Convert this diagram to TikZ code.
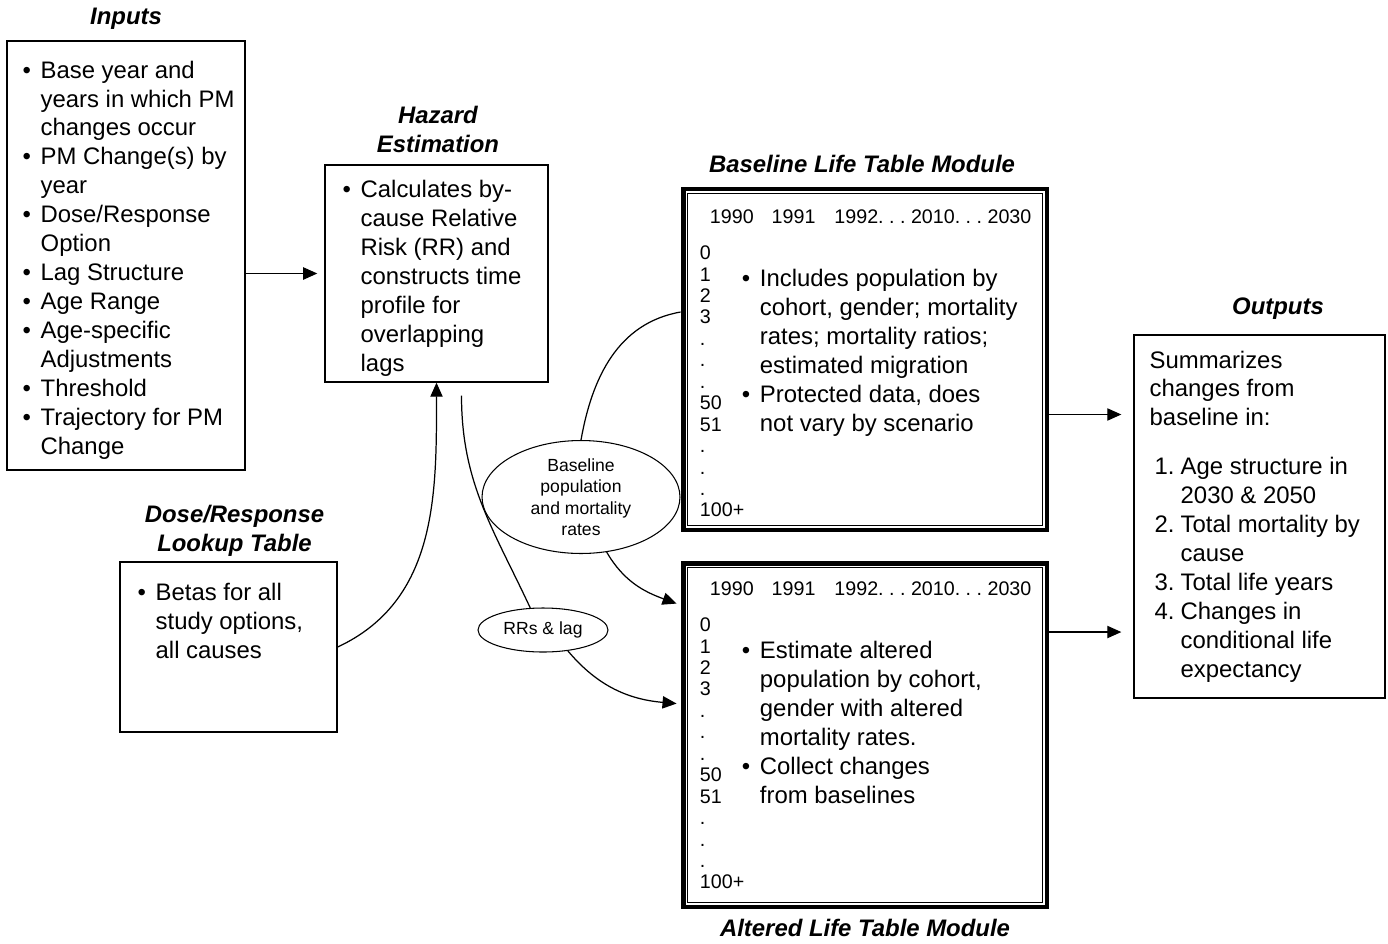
\documentclass[tikz,border=0pt]{standalone}
\usepackage{fontspec}
\setmainfont{Liberation Sans}
\usetikzlibrary{arrows.meta, positioning, shapes.geometric}

\newcommand{\bul}{\makebox[0.36cm][l]{\textbullet}}
\newcommand{\ind}{\hspace*{0.36cm}}
\newcommand{\num}[1]{\hspace*{0.1cm}\makebox[0.52cm][l]{#1}}
\newcommand{\nind}{\hspace*{0.62cm}}

\begin{document}
\begin{tikzpicture}[x=0.02cm, y=-0.02cm,
    box/.style={draw, line width=0.8pt, inner sep=0pt},
    lifebox/.style={draw, line width=2.8pt, inner sep=0pt, minimum width=7.28cm},
    txt/.style={inner sep=0pt, anchor=north west, align=left,
                font=\fontsize{13.6}{16.5}\selectfont},
    ttl/.style={inner sep=0pt, align=center,
                font=\fontsize{13.6}{16.5}\selectfont\bfseries\itshape},
    small/.style={inner sep=0pt, anchor=north west, align=left,
                  font=\fontsize{11.2}{12.2}\selectfont},
    oval/.style={draw, ellipse, line width=0.6pt, inner sep=0pt, align=center,
                 font=\fontsize{10}{12.2}\selectfont},
    arr/.style={-{Triangle[length=8pt,width=7pt]}, line width=0.7pt},
    link/.style={line width=0.7pt}]
  \useasboundingbox (0,0) rectangle (1388,943);

  % boxes
  \node[box, minimum width=4.76cm, minimum height=8.58cm] (inputs) at (126,255.5) {};
  \node[box, minimum width=4.46cm, minimum height=4.34cm] (hazard) at (436.5,273.5) {};
  \node[box, minimum width=4.34cm, minimum height=3.4cm] (dose) at (228.5,647) {};
  \node[lifebox, minimum height=6.82cm] (bl) at (865,359.5) {};
  \node[lifebox, minimum height=6.88cm] (alt) at (865,735) {};
  \node[box, minimum width=5.02cm, minimum height=7.26cm] (outp) at (1259.5,516.5) {};
  \draw[line width=0.6pt] ([shift={(7,7)}]bl.north west) rectangle ([shift={(-7,-7)}]bl.south east);
  \draw[line width=0.6pt] ([shift={(7,7)}]alt.north west) rectangle ([shift={(-7,-7)}]alt.south east);

  % titles
  \node[ttl, above=0.22cm of inputs] (tinp) {Inputs};
  \node[ttl, above=0.22cm of hazard, xshift=0.03cm] (thaz) {Hazard\\Estimation};
  \node[ttl, above=0.1cm of dose, xshift=0.12cm] (tdose) {Dose/Response\\Lookup Table};
  \node[ttl, above=0.26cm of bl, xshift=-0.06cm] (tbl) {Baseline Life Table Module};
  \node[ttl, below=0.18cm of alt] (talt) {Altered Life Table Module};
  \node[ttl, above=0.3cm of outp, xshift=0.37cm] (tout) {Outputs};

  % box texts
  \node[txt] (inputs-t) at ([shift={(16,20)}]inputs.north west) {%
    \bul Base year and\\ \ind years in which PM\\ \ind changes occur\\
    \bul PM Change(s) by\\ \ind year\\
    \bul Dose/Response\\ \ind Option\\
    \bul Lag Structure\\
    \bul Age Range\\
    \bul Age-specific\\ \ind Adjustments\\
    \bul Threshold\\
    \bul Trajectory for PM\\ \ind Change};
  \node[txt] (hazard-t) at ([shift={(18,16)}]hazard.north west) {%
    \bul Calculates by-\\ \ind cause Relative\\ \ind Risk (RR) and\\
    \ind constructs time\\ \ind profile for\\ \ind overlapping\\ \ind lags};
  \node[txt] (dose-t) at ([shift={(18,22)}]dose.north west) {%
    \bul Betas for all\\ \ind study options,\\ \ind all causes};
  \node[txt] (outp-t) at ([shift={(16,16)}]outp.north west) {%
    Summarizes\\ changes from\\ baseline in:\\[0.4cm]
    \num{1.}Age structure in\\ \nind 2030 \& 2050\\
    \num{2.}Total mortality by\\ \nind cause\\
    \num{3.}Total life years\\
    \num{4.}Changes in\\ \nind conditional life\\ \nind expectancy};

  % life tables
  \node[small] (bl-y) at ([shift={(29,23)}]bl.north west)
    {1990\hspace{0.36cm}1991\hspace{0.38cm}1992.\ .\ .\ 2010.\ .\ .\ 2030};
  \node[small] (bl-a) at ([shift={(19,59)}]bl.north west)
    {0\\1\\2\\3\\.\\.\\.\\50\\51\\.\\.\\.\\100+};
  \node[txt] (bl-t) at ([shift={(61,82)}]bl.north west) {%
    \bul Includes population by\\ \ind cohort, gender; mortality\\
    \ind rates; mortality ratios;\\ \ind estimated migration\\
    \bul Protected data, does\\ \ind not vary by scenario};
  \node[small] (alt-y) at ([shift={(29,21)}]alt.north west)
    {1990\hspace{0.36cm}1991\hspace{0.38cm}1992.\ .\ .\ 2010.\ .\ .\ 2030};
  \node[small] (alt-a) at ([shift={(19,57)}]alt.north west)
    {0\\1\\2\\3\\.\\.\\.\\50\\51\\.\\.\\.\\100+};
  \node[txt] (alt-t) at ([shift={(61,80)}]alt.north west) {%
    \bul Estimate altered\\ \ind population by cohort,\\
    \ind gender with altered\\ \ind mortality rates.\\
    \bul Collect changes\\ \ind from baselines};

  % ovals
  \node[oval, minimum width=3.96cm, minimum height=2.26cm] (bpop) at (581,497)
    {Baseline\\population\\and mortality\\rates};
  \node[oval, minimum width=2.6cm, minimum height=0.88cm] (rrlag) at (543,630) {RRs \& lag};

  % connectors
  \draw[arr, shorten >=4pt] (inputs.east |- hazard.west) -- (hazard.west);
  \draw[arr] (dose.east) to[out=25, in=-90] (hazard.south);
  \draw[link] ([shift={(25,13)}]hazard.south) to[out=-90, in=115] (rrlag.120);
  \draw[arr] (rrlag.-40) to[out=-50, in=175] ([shift={(-4,143)}]alt.north west);
  \draw[link] ([yshift=0.95cm]bl.west) to[out=190, in=80] (bpop.north);
  \draw[arr] (bpop.-65) to[out=-60, in=160] ([shift={(-4,43)}]alt.north west);
  \coordinate (o1) at ([yshift=-1.1cm]bl.east);
  \coordinate (o2) at ([yshift=2.06cm]alt.east);
  \draw[arr, shorten >=0.24cm] (o1) -- (o1 -| outp.west);
  \draw[arr, shorten >=0.24cm] (o2) -- (o2 -| outp.west);
\end{tikzpicture}
\end{document}
